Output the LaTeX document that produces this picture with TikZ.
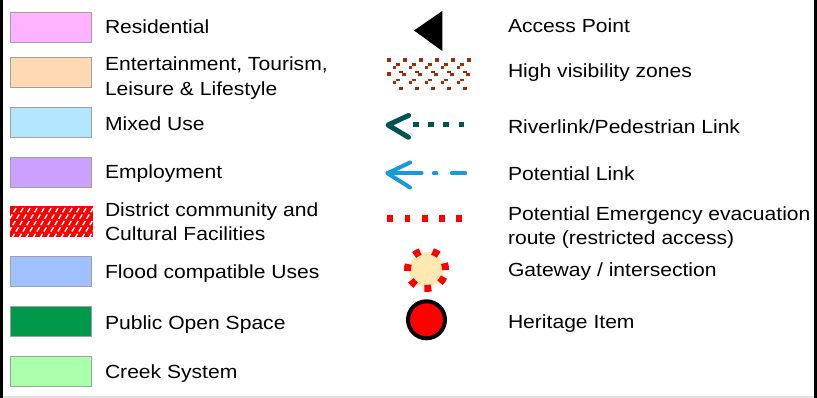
\documentclass[tikz,border=0pt]{standalone}
\usepackage{fontspec}
\setmainfont{Liberation Sans}[FakeStretch=1.11]
\definecolor{swgray}{RGB}{160,160,160}
\definecolor{resi}{RGB}{255,178,255}
\definecolor{ent}{RGB}{255,217,179}
\definecolor{mixed}{RGB}{179,230,255}
\definecolor{employ}{RGB}{204,160,255}
\definecolor{flood}{RGB}{160,192,255}
\definecolor{pos}{RGB}{0,153,76}
\definecolor{creek}{RGB}{170,255,170}
\definecolor{hatchred}{RGB}{255,0,0}
\definecolor{brownv}{RGB}{160,45,10}
\definecolor{riverteal}{RGB}{0,85,80}
\definecolor{linkblue}{RGB}{20,155,220}
\definecolor{cream}{RGB}{255,233,179}
\definecolor{framegray}{RGB}{225,225,225}
\begin{document}
\begin{tikzpicture}[x=1pt,y=-1pt,
  swatch/.style={draw=swgray, line width=1.2, minimum width=81, minimum height=30, anchor=north west, inner sep=0},
  lbl/.style={anchor=north west, inner sep=0, outer sep=0, align=left, font=\fontsize{19}{24.5}\selectfont},
  teal line/.style={draw=riverteal, line width=5, line cap=round, line join=round},
  blue line/.style={draw=linkblue, line width=4, line cap=round, line join=round}]
\useasboundingbox (0,0) rectangle (817,398);
% frame
\draw[line width=3] (1.5,0) -- (1.5,398);
\draw[line width=2.7] (815.3,0) -- (815.3,398);
\draw[framegray, line width=2] (3,397) -- (814,397);

% ---------- left column ----------
\node[swatch, fill=resi]   (resbox)   at (10,12)  {};
\node[swatch, fill=ent]    (entbox)   at (10,57)  {};
\node[swatch, fill=mixed]  (mixbox)   at (10,107) {};
\node[swatch, fill=employ] (empbox)   at (10,157) {};
\node[anchor=north west, inner sep=0, minimum width=83, minimum height=31, fill=hatchred] (distbox) at (10,206) {};
\begin{scope}
  \clip (distbox.north west) rectangle (distbox.south east);
  \foreach \i in {-30,-23,...,100}
    \draw[white, line width=1.4, dash pattern=on 5 off 2.5] (\i,238) -- ++(20,-33);
\end{scope}
\node[swatch, fill=flood]  (floodbox) at (10,256) {};
\node[swatch, fill=pos]    (posbox)   at (10,306) {};
\node[swatch, fill=creek]  (creekbox) at (10,356) {};

\node[lbl] (reslbl)   at (105,19.9)  {Residential};
\node[lbl] (entlbl)   at (105,56.8)  {Entertainment, Tourism,\\Leisure \& Lifestyle};
\node[lbl] (mixlbl)   at (105,117)   {Mixed Use};
\node[lbl] (emplbl)   at (105,164.4) {Employment};
\node[lbl] (distlbl)  at (105,202.4) {District community and\\Cultural Facilities};
\node[lbl] (floodlbl) at (105,265.2) {Flood compatible Uses};
\node[lbl] (poslbl)   at (105,315.7) {Public Open Space};
\node[lbl] (creeklbl) at (105,365.2) {Creek System};

% ---------- right column symbols ----------
% access point
\fill[black] (414,30.5) -- (442.3,11) -- (442.3,51) -- cycle;
% high visibility zones
\begin{scope}[brownv]
  \foreach \x in {387.3,403.3,419.3,435.3,451.3,467.3}
    \fill (\x,58.3) rectangle ++(3.3,3.3);
  \foreach \x in {392.7,408.7,424.7,440.7,456.7} {
    \fill (\x,65.7) rectangle ++(3.5,3.3);
    \fill (\x+3.5,63.2) rectangle ++(3.5,2.8);
    \fill (\x,81) rectangle ++(3.5,2.8);
    \fill (\x+3.5,78.7) rectangle ++(3.5,2.6);
  }
  \fill (387.3,72.3) rectangle ++(3.3,3.3);
  \foreach \x in {399.3,415.3,431.3,447.3,463.3} {
    \fill (\x,70.7) rectangle ++(3.5,2.8);
    \fill (\x+3,73.3) rectangle ++(3.5,2.8);
    \fill (\x,86.8) rectangle ++(3.3,3.2);
  }
\end{scope}
% riverlink
\draw[teal line] (408.5,115.5) -- (388,125) -- (408.5,137.3);
\foreach \x in {413,428.3,443.3,458.5}
  \fill[riverteal] (\x,121.8) rectangle ++(5.8,5.6);
% potential link
\coordinate (bltip) at (387.5,173.3);
\draw[blue line] (410,162.5) -- (bltip) -- (410,187.5);
\draw[blue line] (bltip) -- (421.5,173.3);
\draw[blue line] (433.8,173.3) -- (436.3,173.3);
\draw[blue line] (452,173.3) -- (465.3,173.3);
% emergency route
\foreach \x in {387.3,404.5,421.7,439,456.2}
  \fill[hatchred] (\x,215.2) rectangle ++(5.8,6.5);
% gateway
\coordinate (gw) at (426.5,269.5);
\fill[cream] (gw) circle (17.5);
\foreach \a in {9,61,120,174,225,274,326}
  \draw[hatchred, line width=7] ([shift={(-\a+10.5:19)}]gw) arc (-\a+10.5:-\a-10.5:19);
% heritage item
\node[circle, draw=black, line width=4, fill=hatchred, minimum size=37, inner sep=0] (heritage) at (426.5,319.8) {};

% ---------- right column labels ----------
\node[lbl] (acclbl)   at (508,18.6)  {Access Point};
\node[lbl] (hvlbl)    at (508,64)    {High visibility zones};
\node[lbl] (rivlbl)   at (508,119.4) {Riverlink/Pedestrian Link};
\node[lbl] (potlbl)   at (508,166.4) {Potential Link};
\node[lbl] (emglbl)   at (508,206.5) {Potential Emergency evacuation\\route (restricted access)};
\node[lbl] (gwlbl)    at (508,262.4) {Gateway / intersection};
\node[lbl] (herlbl)   at (508,314.4) {Heritage Item};
\end{tikzpicture}
\end{document}
